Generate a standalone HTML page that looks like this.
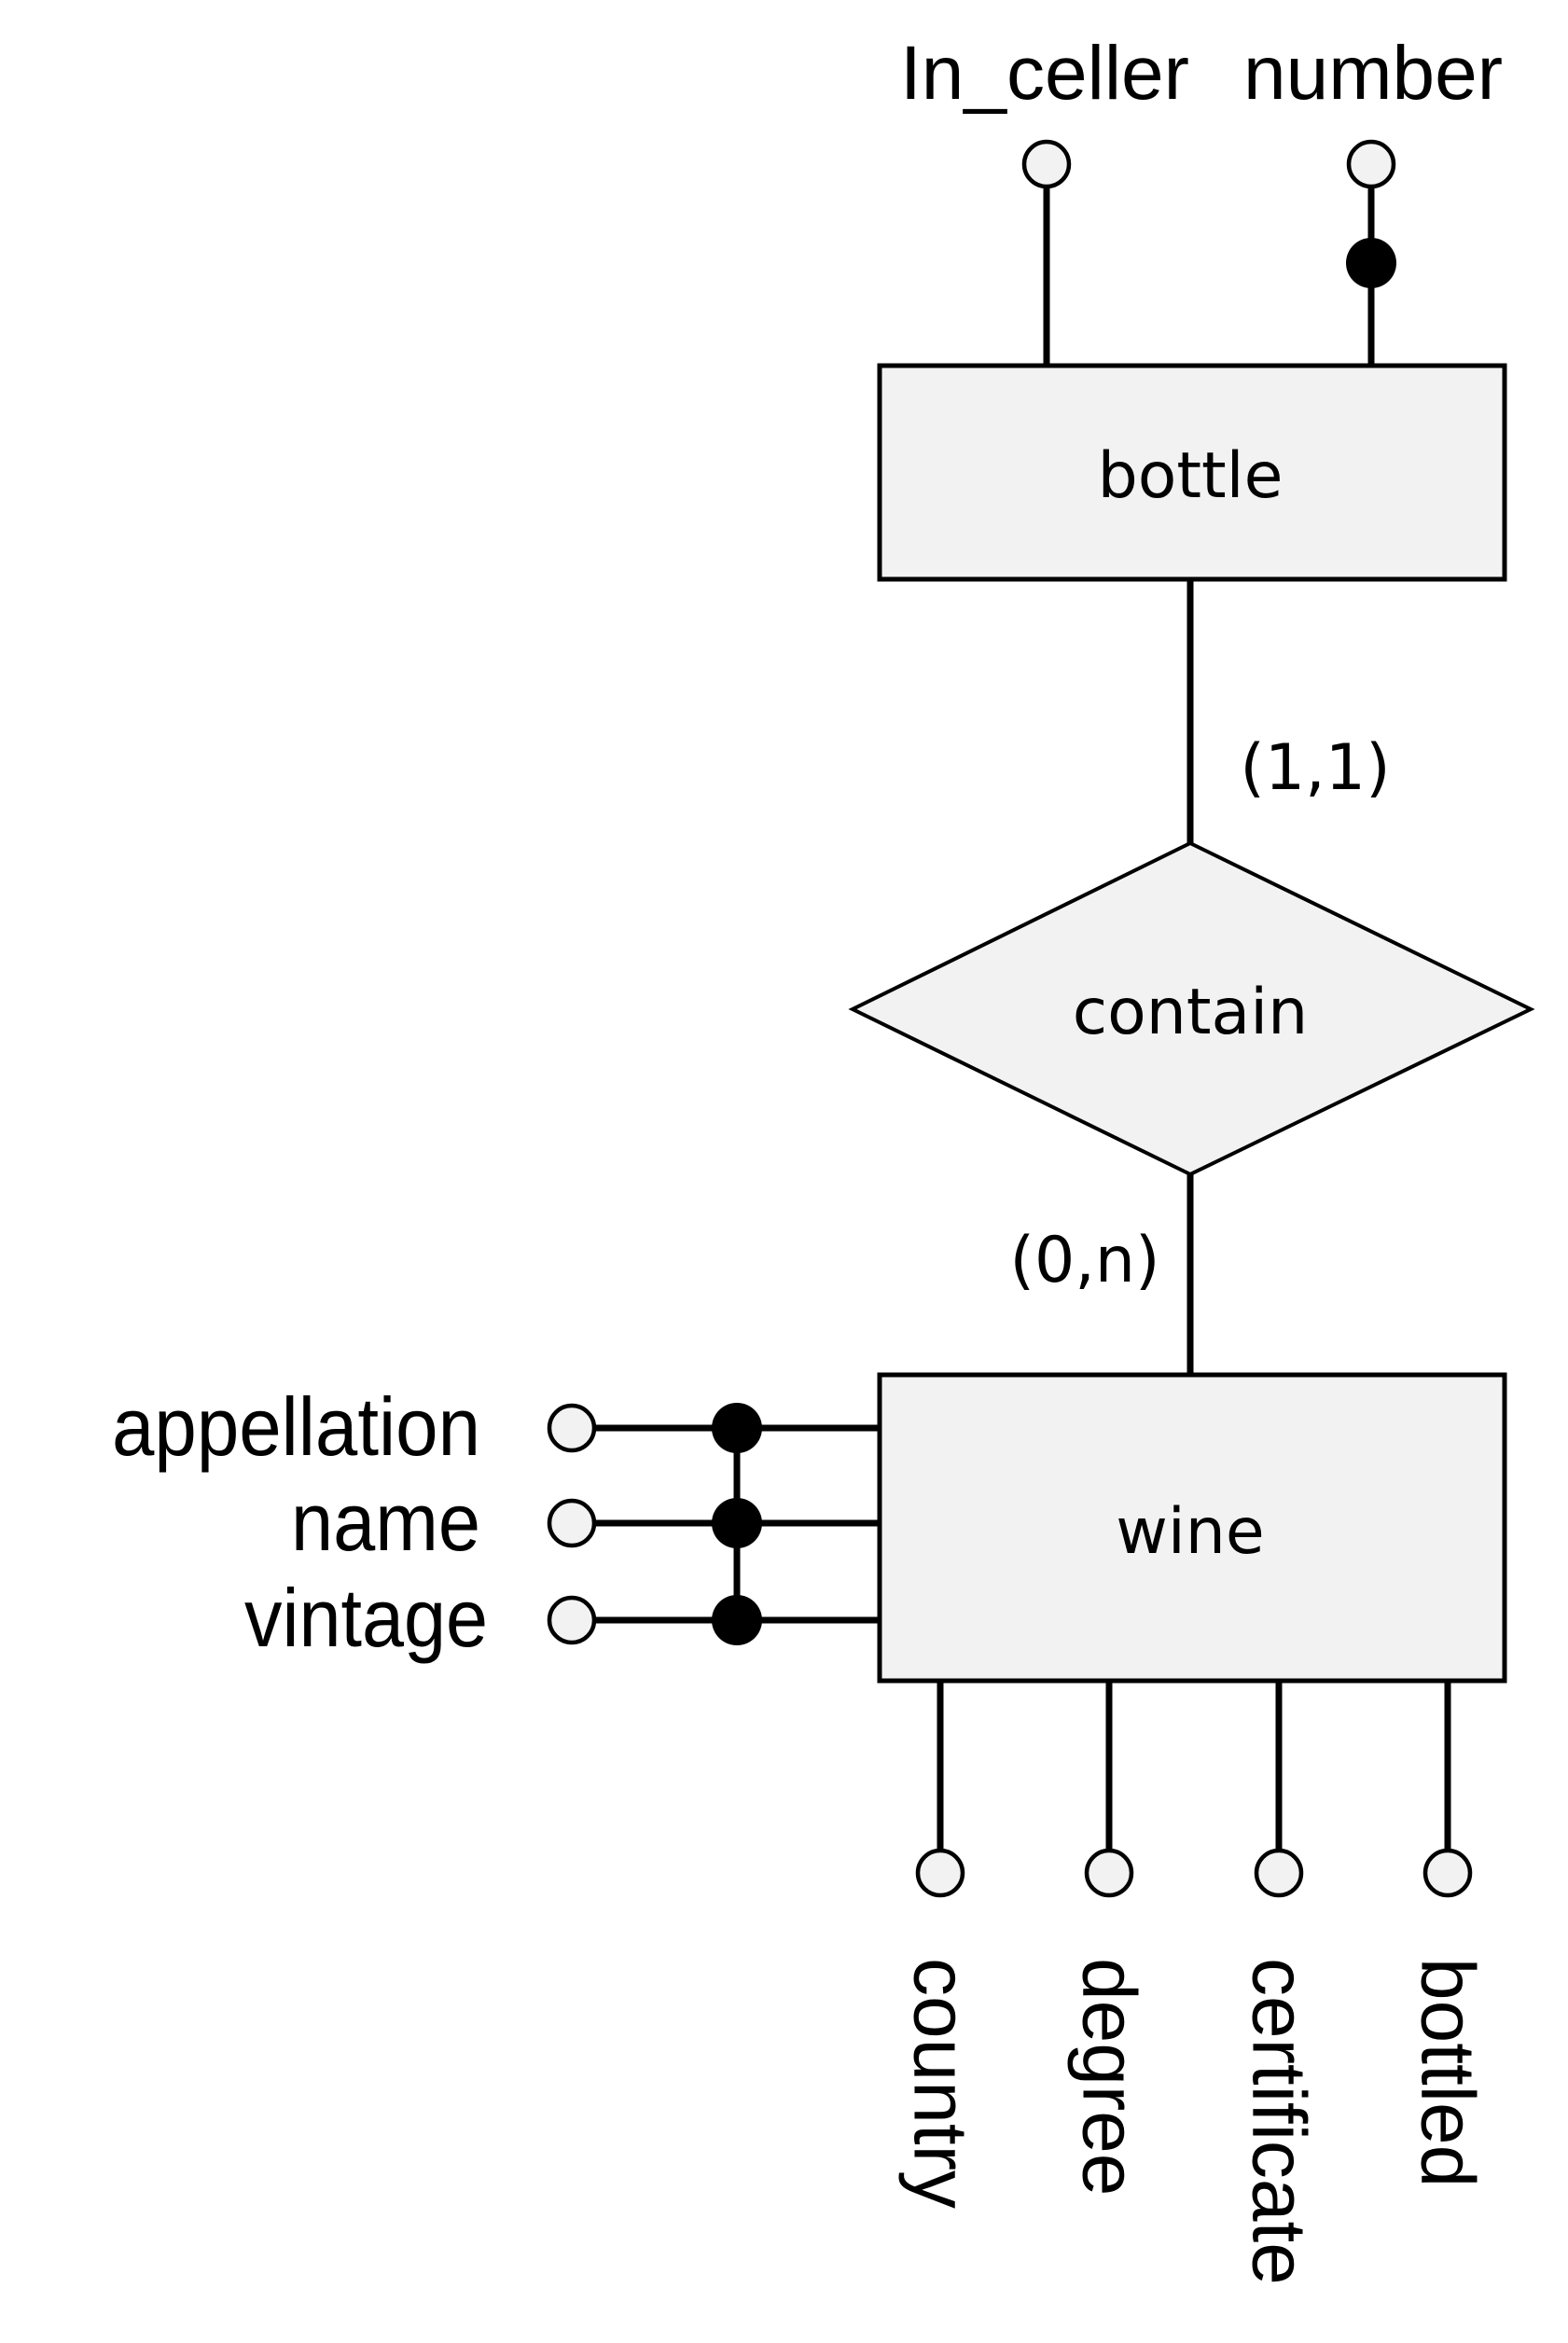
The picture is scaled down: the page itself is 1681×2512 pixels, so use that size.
<!DOCTYPE html>
<html><head><meta charset="utf-8"><style>html,body{margin:0;padding:0;background:#fff}svg{display:block}</style></head>
<body>
<svg width="1681" height="2512" viewBox="0 0 1681 2512" xmlns="http://www.w3.org/2000/svg" font-family="Liberation Sans, Arial, sans-serif">
<g stroke="#000" stroke-width="7">
<line x1="1122" y1="200" x2="1122" y2="390"/>
<line x1="1470" y1="200" x2="1470" y2="390"/>
<line x1="1276" y1="621" x2="1276" y2="904"/>
<line x1="1276" y1="1259" x2="1276" y2="1474"/>
<line x1="638" y1="1531" x2="943" y2="1531"/>
<line x1="638" y1="1633" x2="943" y2="1633"/>
<line x1="638" y1="1737" x2="943" y2="1737"/>
<line x1="790" y1="1531" x2="790" y2="1737"/>
<line x1="1008" y1="1802" x2="1008" y2="1984"/>
<line x1="1189" y1="1802" x2="1189" y2="1984"/>
<line x1="1371" y1="1802" x2="1371" y2="1984"/>
<line x1="1552" y1="1802" x2="1552" y2="1984"/>
</g>
<rect x="943" y="392" width="670" height="229" fill="#f2f2f2" stroke="#000" stroke-width="5"/>
<rect x="943" y="1474" width="670" height="328" fill="#f2f2f2" stroke="#000" stroke-width="5"/>
<polygon points="1276,904 1641,1082 1276,1259 914,1082" fill="#f2f2f2" stroke="#000" stroke-width="4"/>
<g fill="#f2f2f2" stroke="#000" stroke-width="4.5">
<circle cx="1122" cy="176" r="24"/>
<circle cx="1470" cy="176" r="24"/>
<circle cx="613" cy="1531" r="24"/>
<circle cx="613" cy="1633" r="24"/>
<circle cx="613" cy="1737" r="24"/>
<circle cx="1008" cy="2008" r="24"/>
<circle cx="1189" cy="2008" r="24"/>
<circle cx="1371" cy="2008" r="24"/>
<circle cx="1552" cy="2008" r="24"/>
</g>
<g fill="#000">
<circle cx="1470" cy="282" r="27"/>
<circle cx="790" cy="1531" r="27"/>
<circle cx="790" cy="1633" r="27"/>
<circle cx="790" cy="1737" r="27"/>
</g>
<g font-size="82" fill="#000">
<text x="1120" y="106" text-anchor="middle">In_celler</text>
<text x="1472" y="106" text-anchor="middle">number</text>
</g>
<g font-size="88" fill="#000">
<text x="120" y="1560" textLength="395" lengthAdjust="spacingAndGlyphs">appellation</text>
<text x="312" y="1662" textLength="203" lengthAdjust="spacingAndGlyphs">name</text>
<text x="262" y="1765" textLength="261" lengthAdjust="spacingAndGlyphs">vintage</text>
</g>
<g font-family="DejaVu Sans, sans-serif" font-size="68" fill="#000" text-anchor="middle">
<text x="1276" y="533">bottle</text>
<text x="1276" y="1108">contain</text>
<text x="1276" y="1665">wine</text>
<text x="1410" y="846">(1,1)</text>
<text x="1163" y="1374">(0,n)</text>
</g>
<g font-size="82" fill="#000">
<text transform="translate(1008,2099) rotate(90)" dominant-baseline="central">country</text>
<text transform="translate(1189,2099) rotate(90)" dominant-baseline="central">degree</text>
<text transform="translate(1371,2099) rotate(90)" dominant-baseline="central">certificate</text>
<text transform="translate(1552,2099) rotate(90)" dominant-baseline="central">bottled</text>
</g>
</svg>
</body></html>
